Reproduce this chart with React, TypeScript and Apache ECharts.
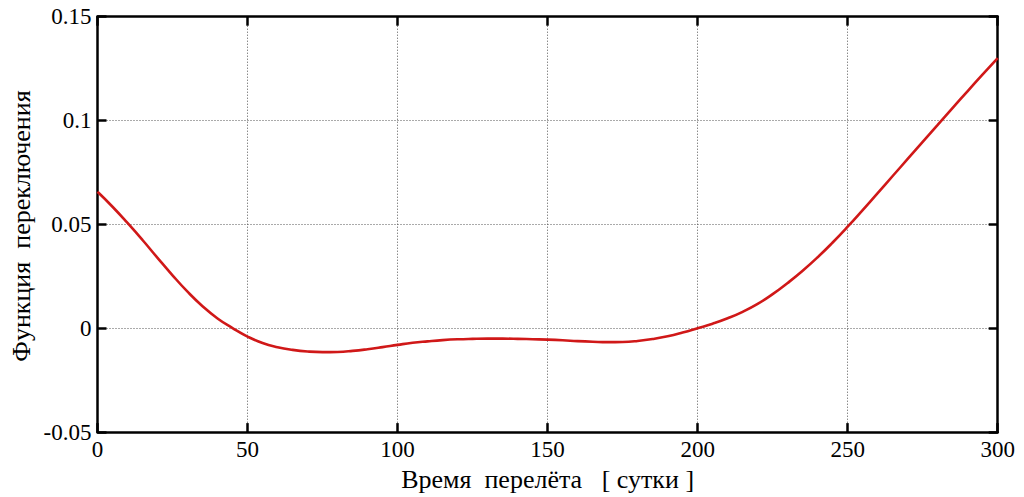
import React, { useEffect, useRef } from "react";
import * as echarts from "echarts";

const days = [
  0, 5, 10, 15, 20, 25, 30, 35, 40, 45, 50, 55, 60, 65, 70, 75, 80, 85, 90, 95,
  100, 105, 110, 115, 120, 125, 130, 135, 140, 145, 150, 155, 160, 165, 170, 175,
  180, 185, 190, 195, 200, 205, 210, 215, 220, 225, 230, 235, 240, 245, 250, 255,
  260, 265, 270, 275, 280, 285, 290, 295, 300,
];
const switchFn = [
  0.0657, 0.0585, 0.0507, 0.0425, 0.0339, 0.0255, 0.0176, 0.0106, 0.0047, 0.0001,
  -0.0040, -0.0071, -0.0091, -0.0104, -0.0112, -0.0115, -0.0114, -0.0109, -0.0101, -0.0091,
  -0.0080, -0.0070, -0.0063, -0.0057, -0.0053, -0.0051, -0.0050, -0.0050, -0.0051, -0.0053,
  -0.0055, -0.0058, -0.0062, -0.0065, -0.0067, -0.0066, -0.0061, -0.0052, -0.0039, -0.0021,
  0.0000, 0.0022, 0.0048, 0.0079, 0.0117, 0.0164, 0.0218, 0.0277, 0.0342, 0.0413,
  0.0489, 0.0569, 0.0651, 0.0733, 0.0815, 0.0897, 0.0979, 0.1061, 0.1142, 0.1222, 0.1301,
];
const xLabel = "Время  перелёта   [ сутки ]";
const yLabel = "Функция  переключения";

export default function App() {
  const ref = useRef<HTMLDivElement>(null);
  useEffect(() => {
    if (!ref.current) return;
    const chart = echarts.init(ref.current, null, { renderer: "svg" });
    const font = "Liberation Serif";
    const axisLine = { show: true, onZero: false, lineStyle: { color: "#000", width: 2.5 } };
    const tick = { show: true, inside: true, length: 9, lineStyle: { color: "#000", width: 2.5 } };
    const split = { show: true, lineStyle: { color: "#555", type: [1, 2] as any, width: 1 } };
    chart.setOption({
      animation: false,
      backgroundColor: "#fff",
      grid: { left: 97.5, right: 26.3, top: 16.7, bottom: 62, containLabel: false },
      xAxis: [
        {
          type: "value", min: 0, max: 300, interval: 50, position: "bottom",
          axisLine, axisTick: tick, splitLine: split,
          axisLabel: { color: "#000", fontFamily: font, fontSize: 23, margin: 6 },
          name: xLabel, nameLocation: "middle", nameGap: 31,
          nameTextStyle: { color: "#000", fontFamily: font, fontSize: 26 },
        },
        {
          type: "value", min: 0, max: 300, interval: 50, position: "top",
          axisLine, axisTick: tick, splitLine: { show: false }, axisLabel: { show: false },
        },
      ],
      yAxis: [
        {
          type: "value", min: -0.05, max: 0.15, interval: 0.05, position: "left",
          axisLine, axisTick: tick, splitLine: split,
          axisLabel: { color: "#000", fontFamily: font, fontSize: 23, margin: 6 },
        },
        {
          type: "value", min: -0.05, max: 0.15, interval: 0.05, position: "right",
          axisLine, axisTick: tick, splitLine: { show: false }, axisLabel: { show: false },
        },
      ],
      graphic: [
        {
          type: "text", x: 21, y: 226, rotation: Math.PI / 2,
          style: {
            text: yLabel, fontFamily: font, fontSize: 26, fill: "#000",
            align: "center", verticalAlign: "middle",
          },
        },
      ],
      series: [
        {
          type: "line",
          xAxisIndex: 0, yAxisIndex: 0,
          data: days.map((d, i) => [d, switchFn[i]]),
          smooth: 0.5, showSymbol: false,
          lineStyle: { color: "#d01818", width: 2.6 },
        },
      ],
    });
    return () => chart.dispose();
  }, []);
  return <div ref={ref} style={{ position: "fixed", left: 0, top: 0, width: 1024, height: 497 }} />;
}
